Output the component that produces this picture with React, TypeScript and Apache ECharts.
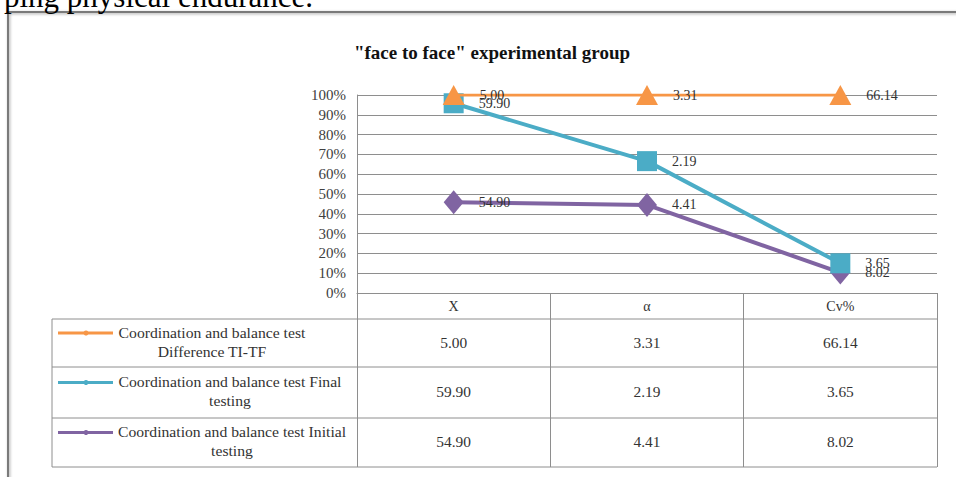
import React, { useEffect, useRef } from "react";
import * as echarts from "echarts";

// Categories of the statistics shown along the x axis
const categories = ["X", "α", "Cv%"];

// Raw values per series (Coordination and balance test)
const initialTesting = [54.9, 4.41, 8.02];
const finalTesting = [59.9, 2.19, 3.65];
const differenceTITF = [5.0, 3.31, 66.14];

// Percent tick labels on the value axis
const yTickLabels = ["0%", "10%", "20%", "30%", "40%", "50%", "60%", "70%", "80%", "90%", "100%"];

const chartTitle = '"face to face" experimental group';
const pageText = "ping physical endurance.";

const ORANGE = "#F79646";
const BLUE = "#4BACC6";
const PURPLE = "#8064A2";
const GRID = "#8e8e8e";
const SERIF = "'Liberation Serif', 'Times New Roman', serif";

// Series in stacking order (bottom to top)
const stackSeries = [
  {
    name: "Coordination and balance test Initial testing",
    lines: ["Coordination and balance test Initial", "testing"],
    values: initialTesting,
    color: PURPLE,
    symbol: "diamond",
    symbolSize: [20, 24],
    width: 4,
  },
  {
    name: "Coordination and balance test Final testing",
    lines: ["Coordination and balance test Final", "testing"],
    values: finalTesting,
    color: BLUE,
    symbol: "rect",
    symbolSize: 20,
    width: 4,
  },
  {
    name: "Coordination and balance test Difference TI-TF",
    lines: ["Coordination and balance test", "Difference TI-TF"],
    values: differenceTITF,
    color: ORANGE,
    symbol: "triangle",
    symbolSize: [22, 20],
    width: 3,
  },
];

// 100% stacked shares: cumulative value divided by the category total
function stackedShares(): number[][] {
  const totals = categories.map((_, i) => stackSeries.reduce((s, ser) => s + ser.values[i], 0));
  const out: number[][] = [];
  const cum = categories.map(() => 0);
  stackSeries.forEach((ser) => {
    out.push(
      ser.values.map((v, i) => {
        cum[i] += v;
        return cum[i] / totals[i];
      })
    );
  });
  return out;
}

export default function App() {
  const ref = useRef<HTMLDivElement>(null);

  useEffect(() => {
    document.body.style.margin = "0";
    const chart = echarts.init(ref.current!, null, { renderer: "svg" });
    const shares = stackedShares();

    chart.setOption({
      animation: false,
      backgroundColor: "#ffffff",
      title: {
        text: chartTitle,
        left: 487,
        top: 38,
        textAlign: "center",
        textStyle: { fontFamily: SERIF, fontWeight: "bold", fontSize: 19, color: "#111" },
      },
      grid: { left: 357, top: 95, width: 580, height: 198, containLabel: false },
      xAxis: {
        type: "category",
        data: categories,
        boundaryGap: true,
        axisLine: { show: true, lineStyle: { color: GRID, width: 1 } },
        axisTick: { show: true, length: 174, interval: 0, lineStyle: { color: GRID, width: 1 } },
        axisLabel: { margin: 6, fontFamily: SERIF, fontSize: 14, color: "#333" },
        splitLine: { show: false },
      },
      yAxis: {
        type: "value",
        min: 0,
        max: 1,
        interval: 0.1,
        axisLine: { show: true, lineStyle: { color: GRID, width: 1 } },
        axisTick: { show: false },
        axisLabel: {
          margin: 11,
          fontFamily: SERIF,
          fontSize: 15,
          color: "#404040",
          formatter: (v: number) => yTickLabels[Math.round(v * 10)],
        },
        splitLine: { show: true, lineStyle: { color: GRID, width: 1 } },
      },
      series: stackSeries.map((ser, k) => ({
        name: ser.name,
        type: "line",
        data: shares[k],
        symbol: ser.symbol,
        symbolSize: ser.symbolSize,
        lineStyle: { color: ser.color, width: ser.width },
        itemStyle: { color: ser.color },
        z: 2 + k,
        label: {
          show: true,
          position: "right",
          distance: 15,
          fontFamily: SERIF,
          fontSize: 14,
          color: "#333",
          formatter: (p: any) => ser.values[p.dataIndex].toFixed(2),
        },
      })),
    });

    // Data table under the plot, aligned with the category axis
    const xs = categories.map((c) => chart.convertToPixel({ xAxisIndex: 0 }, c) as number);
    const axisY = chart.convertToPixel({ yAxisIndex: 0 }, 0) as number;
    const bandW = xs.length > 1 ? xs[1] - xs[0] : 190;
    const tableRight = xs[xs.length - 1] + bandW / 2;
    const tableLeft = 52;
    const rowEdges = [axisY + 26, axisY + 74, axisY + 125, axisY + 174];
    const legendCenters = [212, 230, 232];
    const tableText = { fontFamily: SERIF, fontSize: 14, fill: "#333", align: "center", verticalAlign: "middle" };

    const tableRows = [stackSeries[2], stackSeries[1], stackSeries[0]];
    const graphics: any[] = [
      {
        type: "rect",
        silent: true,
        z: 0,
        shape: { x: 8, y: 12, width: 1000, height: 500 },
        style: {
          fill: "none",
          stroke: "#7a7a7a",
          lineWidth: 2,
          shadowBlur: 3,
          shadowColor: "rgba(0,0,0,0.35)",
          shadowOffsetX: 1,
          shadowOffsetY: 1,
        },
      },
      {
        type: "text",
        silent: true,
        x: 313,
        y: 12,
        style: {
          text: pageText,
          fontFamily: SERIF,
          fontSize: 31,
          fill: "#000",
          align: "right",
          verticalAlign: "bottom",
        },
      },
      {
        type: "line",
        silent: true,
        shape: { x1: tableLeft, y1: rowEdges[0], x2: tableLeft, y2: rowEdges[3] },
        style: { stroke: GRID, lineWidth: 1 },
      },
    ];

    rowEdges.forEach((y) => {
      graphics.push({
        type: "line",
        silent: true,
        shape: { x1: tableLeft, y1: y, x2: tableRight, y2: y },
        style: { stroke: GRID, lineWidth: 1 },
      });
    });

    tableRows.forEach((ser, r) => {
      const top = rowEdges[r];
      const bottom = rowEdges[r + 1];
      const mid = (top + bottom) / 2;
      const line1Y = mid - 10;
      // legend key: coloured line with a small marker
      graphics.push({
        type: "line",
        silent: true,
        shape: { x1: 58, y1: line1Y, x2: 113, y2: line1Y },
        style: { stroke: ser.color, lineWidth: 3 },
      });
      graphics.push({
        type: "circle",
        silent: true,
        shape: { cx: 86, cy: line1Y, r: 2.5 },
        style: { fill: ser.color },
      });
      ser.lines.forEach((t, li) => {
        graphics.push({
          type: "text",
          silent: true,
          x: legendCenters[r],
          y: line1Y + li * 19,
          scaleX: 1.12,
          style: { ...tableText, text: t },
        });
      });
      ser.values.forEach((v, i) => {
        graphics.push({
          type: "text",
          silent: true,
          x: xs[i],
          y: mid,
          scaleX: 1.1,
          style: { ...tableText, text: v.toFixed(2) },
        });
      });
    });

    chart.setOption({ graphic: graphics });

    return () => chart.dispose();
  }, []);

  return <div ref={ref} style={{ width: 956, height: 477 }} />;
}
